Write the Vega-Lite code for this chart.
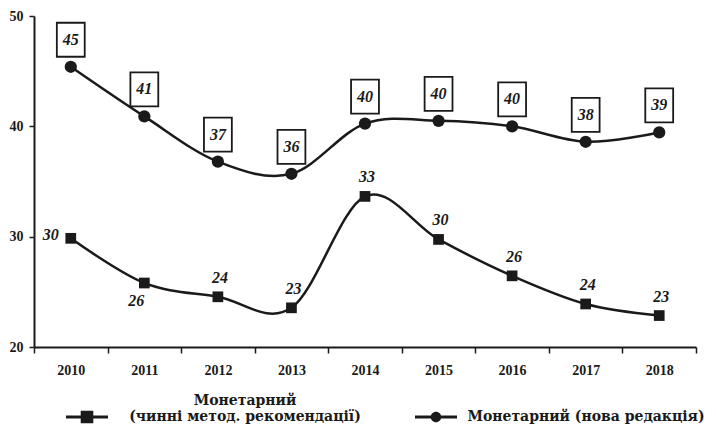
{
  "$schema": "https://vega.github.io/schema/vega-lite/v6.json",
  "width": 662,
  "height": 331,
  "padding": {"left": 9, "top": 9, "right": 5, "bottom": 0},
  "background": "white",
  "config": {
    "view": {"stroke": null},
    "font": "Liberation Serif"
  },
  "data": {
    "values": [
      {"year": "2010", "series": "Монетарний (чинні метод. рекомендації)", "value": 29.85, "label": "30"},
      {"year": "2011", "series": "Монетарний (чинні метод. рекомендації)", "value": 25.8, "label": "26"},
      {"year": "2012", "series": "Монетарний (чинні метод. рекомендації)", "value": 24.55, "label": "24"},
      {"year": "2013", "series": "Монетарний (чинні метод. рекомендації)", "value": 23.55, "label": "23"},
      {"year": "2014", "series": "Монетарний (чинні метод. рекомендації)", "value": 33.65, "label": "33"},
      {"year": "2015", "series": "Монетарний (чинні метод. рекомендації)", "value": 29.75, "label": "30"},
      {"year": "2016", "series": "Монетарний (чинні метод. рекомендації)", "value": 26.45, "label": "26"},
      {"year": "2017", "series": "Монетарний (чинні метод. рекомендації)", "value": 23.9, "label": "24"},
      {"year": "2018", "series": "Монетарний (чинні метод. рекомендації)", "value": 22.85, "label": "23"},
      {"year": "2010", "series": "Монетарний (нова редакція)", "value": 45.4, "label": "45"},
      {"year": "2011", "series": "Монетарний (нова редакція)", "value": 40.9, "label": "41"},
      {"year": "2012", "series": "Монетарний (нова редакція)", "value": 36.8, "label": "37"},
      {"year": "2013", "series": "Монетарний (нова редакція)", "value": 35.7, "label": "36"},
      {"year": "2014", "series": "Монетарний (нова редакція)", "value": 40.25, "label": "40"},
      {"year": "2015", "series": "Монетарний (нова редакція)", "value": 40.5, "label": "40"},
      {"year": "2016", "series": "Монетарний (нова редакція)", "value": 40.0, "label": "40"},
      {"year": "2017", "series": "Монетарний (нова редакція)", "value": 38.6, "label": "38"},
      {"year": "2018", "series": "Монетарний (нова редакція)", "value": 39.45, "label": "39"}
    ]
  },
  "encoding": {
    "x": {
      "field": "year", "type": "ordinal",
      "scale": {"type": "band", "paddingInner": 0, "paddingOuter": 0},
      "axis": {
        "title": null, "labelAngle": 0, "tickBand": "extent",
        "domainColor": "#1a1a1a", "domainWidth": 2,
        "tickColor": "#1a1a1a", "tickWidth": 1.5, "tickSize": 6,
        "labelFont": "Liberation Serif", "labelFontWeight": "bold", "labelFontSize": 14,
        "labelColor": "#1a1a1a", "labelPadding": 10, "grid": false
      }
    },
    "y": {
      "field": "value", "type": "quantitative",
      "scale": {"domain": [20, 50], "nice": false, "zero": false},
      "axis": {
        "title": null, "values": [20, 30, 40, 50],
        "domainColor": "#1a1a1a", "domainWidth": 2,
        "tickColor": "#1a1a1a", "tickWidth": 1.5, "tickSize": 5,
        "labelFont": "Liberation Serif", "labelFontWeight": "bold", "labelFontSize": 14,
        "labelColor": "#1a1a1a", "labelPadding": 6, "grid": false
      }
    }
  },
  "layer": [
    {
      "mark": {"type": "line", "interpolate": "cardinal", "strokeWidth": 2.5},
      "encoding": {
        "color": {
          "field": "series", "type": "nominal",
          "scale": {
            "domain": ["Монетарний (чинні метод. рекомендації)", "Монетарний (нова редакція)"],
            "range": ["#1a1a1a", "#1a1a1a"]
          },
          "legend": {
            "title": null, "orient": "none", "direction": "horizontal",
            "legendX": 32, "legendY": 380,
            "labelFont": "DejaVu Serif", "labelFontWeight": "bold", "labelFontSize": 14, "labelColor": "#1a1a1a",
            "labelExpr": "datum.value == 'Монетарний (чинні метод. рекомендації)' ? ['Монетарний', '(чинні метод. рекомендації)'] : datum.value",
            "labelAlign": "center", "labelOffset": 137, "labelLimit": 400, "labelBaseline": "middle",
            "columnPadding": 54, "symbolSize": 1764, "padding": 0,
            "encode": {
              "symbols": {
                "update": {
                  "shape": {"signal": "datum.value == 'Монетарний (чинні метод. рекомендації)' ? 'M-1,-0.07H1V0.07H-1Z M-0.3,-0.3H0.3V0.3H-0.3Z' : 'M-1,-0.07H1V0.07H-1Z M-0.25,0A0.25,0.25 0 1,1 0.25,0A0.25,0.25 0 1,1 -0.25,0Z'"},
                  "fill": {"value": "#1a1a1a"},
                  "stroke": {"value": "transparent"},
                  "strokeWidth": {"value": 0}
                }
              },
              "labels": {
                "update": {
                  "lineHeight": {"value": 16},
                  "dy": {"signal": "datum.value == 'Монетарний (чинні метод. рекомендації)' ? -16 : 0"},
                  "dx": {"signal": "datum.value == 'Монетарний (чинні метод. рекомендації)' ? 0 : -8"}
                }
              }
            }
          }
        }
      }
    },
    {
      "transform": [{"filter": "datum.series == 'Монетарний (чинні метод. рекомендації)'"}],
      "mark": {"type": "point", "shape": "square", "filled": true, "size": 115, "color": "#1a1a1a", "opacity": 1}
    },
    {
      "transform": [{"filter": "datum.series == 'Монетарний (нова редакція)'"}],
      "mark": {"type": "point", "shape": "circle", "filled": true, "size": 150, "color": "#1a1a1a", "opacity": 1}
    },
    {
      "transform": [{"filter": "datum.series == 'Монетарний (нова редакція)'"}],
      "mark": {"type": "point", "shape": "M-0.82,-1H0.82V1H-0.82Z", "size": 1156, "fill": "white", "fillOpacity": 1, "stroke": "#1a1a1a", "strokeWidth": 1.8, "opacity": 1, "yOffset": -27}
    },
    {
      "transform": [{"filter": "datum.series == 'Монетарний (нова редакція)'"}],
      "mark": {"type": "text", "font": "Liberation Serif", "fontStyle": "italic", "fontWeight": "bold", "fontSize": 16, "color": "#1a1a1a", "dy": -27},
      "encoding": {"text": {"field": "label"}}
    },
    {
      "transform": [{"filter": "datum.series == 'Монетарний (чинні метод. рекомендації)' && datum.year != '2010' && datum.year != '2011'"}],
      "mark": {"type": "text", "font": "Liberation Serif", "fontStyle": "italic", "fontWeight": "bold", "fontSize": 16, "color": "#1a1a1a", "dy": -19, "dx": 2},
      "encoding": {"text": {"field": "label"}}
    },
    {
      "transform": [{"filter": "datum.series == 'Монетарний (чинні метод. рекомендації)' && datum.year == '2010'"}],
      "mark": {"type": "text", "font": "Liberation Serif", "fontStyle": "italic", "fontWeight": "bold", "fontSize": 16, "color": "#1a1a1a", "dx": -20, "dy": -3},
      "encoding": {"text": {"field": "label"}}
    },
    {
      "transform": [{"filter": "datum.series == 'Монетарний (чинні метод. рекомендації)' && datum.year == '2011'"}],
      "mark": {"type": "text", "font": "Liberation Serif", "fontStyle": "italic", "fontWeight": "bold", "fontSize": 16, "color": "#1a1a1a", "dx": -8, "dy": 18},
      "encoding": {"text": {"field": "label"}}
    }
  ]
}
